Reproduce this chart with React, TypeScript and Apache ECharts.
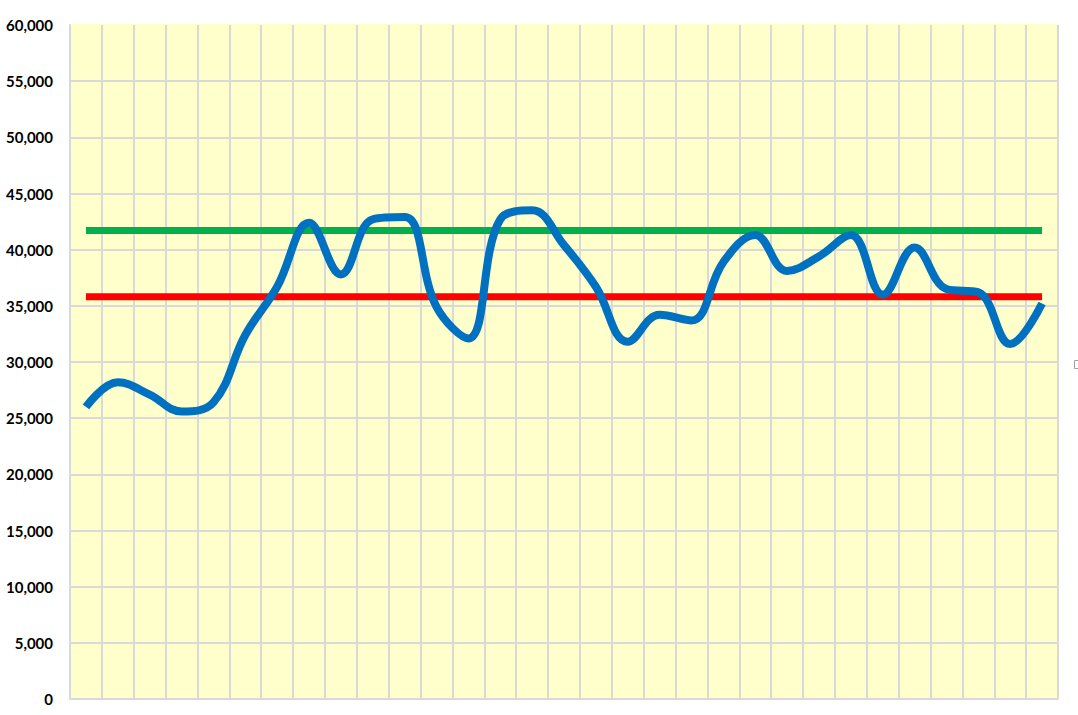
import React, { useEffect, useRef } from "react";
import * as echarts from "echarts";

const categories: string[] = Array.from({ length: 31 }, (_, i) => String(i + 1));
const values: number[] = [
  26000, 28200, 27100, 25600, 26400, 32400, 36700, 42400, 37800, 42700,
  42900, 34900, 32100, 42700, 43500, 40400, 36700, 31800, 34200, 33700,
  38900, 41300, 38100, 39400, 41300, 36000, 40200, 36500, 36200, 31600,
  35200,
];
const upperLevel = 41700;
const lowerLevel = 35800;
const upperValues: number[] = categories.map(() => upperLevel);
const lowerValues: number[] = categories.map(() => lowerLevel);

const yMin = 0;
const yMax = 60000;
const yInterval = 5000;

export default function App() {
  const ref = useRef<HTMLDivElement>(null);
  useEffect(() => {
    if (!ref.current) return;
    const chart = echarts.init(ref.current, null, { renderer: "svg" });
    const hColors = Array.from({ length: 13 }, (_, i) => (i === 12 ? "#FFFFCC" : "#D9D9D9"));
    chart.setOption({
      animation: false,
      grid: {
        left: 70,
        right: 20,
        top: 25,
        bottom: 16,
        show: true,
        backgroundColor: "#FFFFCC",
        borderWidth: 0,
      },
      xAxis: {
        type: "category",
        data: categories,
        boundaryGap: true,
        axisLabel: { show: false },
        axisTick: { show: false },
        axisLine: { show: true, lineStyle: { color: "#D9D9D9", width: 2 } },
        splitLine: { show: true, lineStyle: { color: "#D9D9D9", width: 2 } },
      },
      yAxis: {
        type: "value",
        min: yMin,
        max: yMax,
        interval: yInterval,
        axisLine: { show: true, lineStyle: { color: "#D9D9D9", width: 2 } },
        axisTick: { show: false },
        axisLabel: {
          margin: 17,
          fontFamily: "Lato",
          fontWeight: "bold",
          fontSize: 15,
          color: "#000000",
          formatter: (v: number) => v.toLocaleString("en-US"),
        },
        splitLine: { show: true, lineStyle: { color: hColors, width: 2 } },
      },
      series: [
        {
          type: "line",
          data: upperValues,
          symbol: "none",
          lineStyle: { color: "#00B050", width: 7, cap: "butt" },
          z: 2,
        },
        {
          type: "line",
          data: lowerValues,
          symbol: "none",
          lineStyle: { color: "#FF0000", width: 7, cap: "butt" },
          z: 2,
        },
        {
          type: "line",
          data: values,
          symbol: "none",
          smooth: 0.4,
          lineStyle: { color: "#0070C0", width: 8, cap: "butt", join: "round" },
          z: 3,
        },
      ],
      graphic: [
        {
          type: "rect",
          shape: { x: 1074.5, y: 360.5, width: 4, height: 8 },
          style: { fill: "none", stroke: "#A0A0A0", lineWidth: 1 },
        },
      ],
    });
    return () => chart.dispose();
  }, []);
  return <div ref={ref} style={{ width: 1078, height: 715, position: "absolute", left: 0, top: 0 }} />;
}
